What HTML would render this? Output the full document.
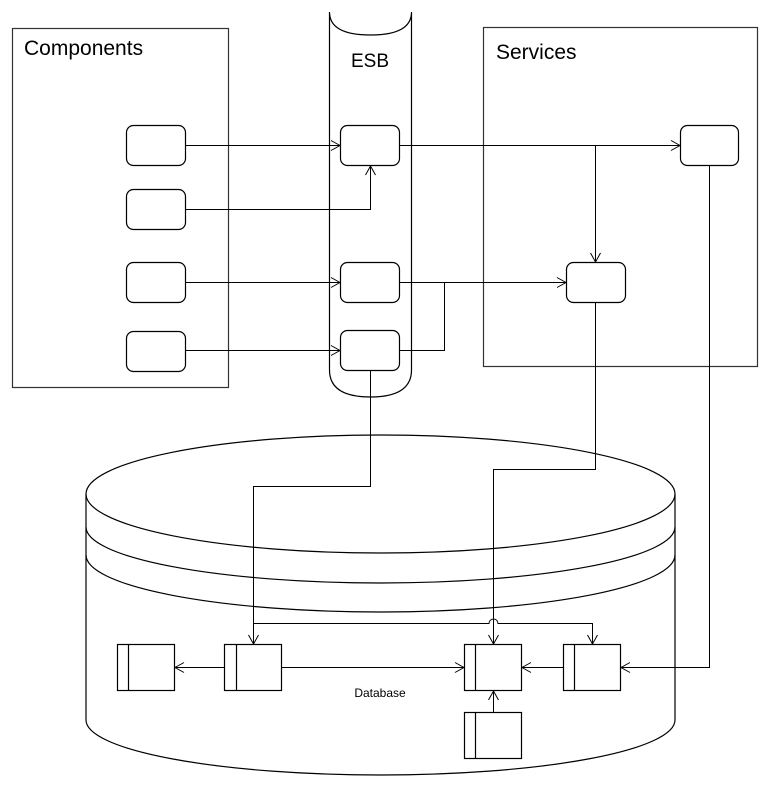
<!DOCTYPE html>
<html><head><meta charset="utf-8"><style>html,body{margin:0;padding:0;background:#fff;}svg{display:block}</style></head>
<body>
<svg width="771" height="787" viewBox="0 0 771 787" xmlns="http://www.w3.org/2000/svg" font-family="Liberation Sans, sans-serif">
<defs>
<marker id="a" markerWidth="12" markerHeight="12" refX="10" refY="6" orient="auto" markerUnits="userSpaceOnUse">
<path d="M1,1 L10,6 L1,11" fill="none" stroke="#000" stroke-width="1"/>
</marker>
</defs>
<g fill="none" stroke="#000" stroke-width="1.2">
<!-- Components -->
<rect x="12.5" y="28.5" width="216" height="359" stroke="#333"/>
<!-- Services -->
<rect x="483.5" y="27.5" width="274" height="339" stroke="#333"/>
<!-- ESB cylinder -->
<path d="M329.5,12 Q329.5,35 370.5,35 Q411.5,35 411.5,12 M329.5,12 L329.5,370 Q329.5,397 370.5,397 Q411.5,397 411.5,370 L411.5,12"/>
<!-- component boxes -->
<rect x="126.5" y="125.5" width="59" height="40" rx="7"/>
<rect x="126.5" y="189.5" width="59" height="40" rx="7"/>
<rect x="126.5" y="262.5" width="59" height="40" rx="7"/>
<rect x="126.5" y="331.5" width="59" height="40" rx="7"/>
<!-- ESB boxes -->
<rect x="340.5" y="125.5" width="59" height="40" rx="7"/>
<rect x="340.5" y="262.5" width="59" height="40" rx="7"/>
<rect x="340.5" y="330.5" width="59" height="40" rx="7"/>
<!-- service boxes -->
<rect x="680.5" y="125.5" width="58" height="40" rx="7"/>
<rect x="566.5" y="262.5" width="59" height="40" rx="7"/>
<!-- Database cylinder -->
<path d="M86,494 A294.5,59 0 0 1 675,494 L675,720 A294.5,55 0 0 1 86,720 Z"/>
<path d="M86,494 A294.5,59 0 0 0 675,494"/>
<path d="M86,527 A294.5,56 0 0 0 675,527"/>
<path d="M86,555 A294.5,57 0 0 0 675,555"/>
<!-- DB boxes -->
<rect x="117.5" y="644.5" width="57" height="46"/><line x1="128.5" y1="644.5" x2="128.5" y2="690.5"/>
<rect x="224.5" y="644.5" width="57" height="46"/><line x1="236.5" y1="644.5" x2="236.5" y2="690.5"/>
<rect x="464.5" y="644.5" width="57" height="46"/><line x1="475.5" y1="644.5" x2="475.5" y2="690.5"/>
<rect x="563.5" y="644.5" width="57" height="46"/><line x1="574.5" y1="644.5" x2="574.5" y2="690.5"/>
<rect x="464.5" y="712.5" width="57" height="46"/><line x1="475.5" y1="712.5" x2="475.5" y2="758.5"/>
</g>
<g fill="none" stroke="#000" stroke-width="1">
<path d="M185.5,145.5 H340" marker-end="url(#a)"/>
<path d="M185.5,209.5 H370.5 V166" marker-end="url(#a)"/>
<path d="M185.5,282.5 H340" marker-end="url(#a)"/>
<path d="M185.5,350.5 H340" marker-end="url(#a)"/>
<path d="M399.5,145.5 H680" marker-end="url(#a)"/>
<path d="M595.5,145.5 V262" marker-end="url(#a)"/>
<path d="M399.5,282.5 H566" marker-end="url(#a)"/>
<path d="M399.5,350.5 H444.5 V282.5"/>
<path d="M370.5,371 V486.5 H253.5 V644" marker-end="url(#a)"/>
<path d="M595.5,303 V469.5 H493.5 V644" marker-end="url(#a)"/>
<path d="M709.5,166 V667.5 H621" marker-end="url(#a)"/>
<path d="M253.5,623.5 H489 A4.5,4.5 0 0 1 498,623.5 H592.5 V644" marker-end="url(#a)"/>
<path d="M224.5,667.5 H175" marker-end="url(#a)"/>
<path d="M281.5,667.5 H464" marker-end="url(#a)"/>
<path d="M563.5,667.5 H522" marker-end="url(#a)"/>
<path d="M493.5,712.5 V691" marker-end="url(#a)"/>
</g>
<g fill="#000">
<text x="24" y="55" font-size="21">Components</text>
<text x="496" y="59" font-size="21">Services</text>
<text x="370" y="67" font-size="19" text-anchor="middle">ESB</text>
<text x="380" y="697" font-size="12" text-anchor="middle">Database</text>
</g>
</svg>
</body></html>
